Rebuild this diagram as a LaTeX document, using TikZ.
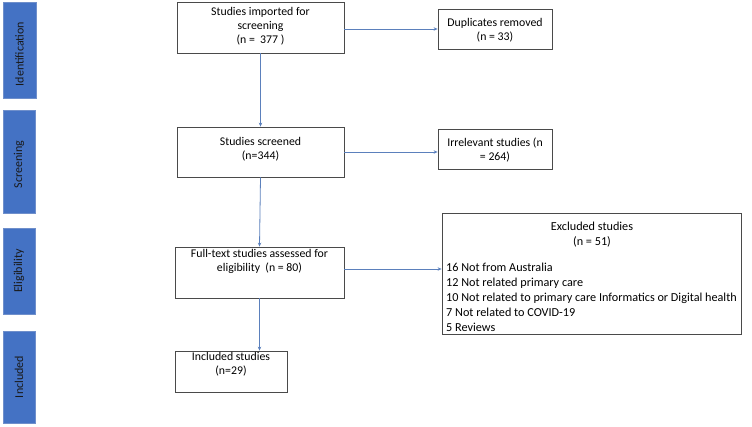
\documentclass[tikz,border=0pt]{standalone}
\usepackage{fontspec}
\setmainfont{Carlito}
\usetikzlibrary{arrows.meta}
\definecolor{barblue}{HTML}{4472C4}
\definecolor{barline}{HTML}{6F8FCB}
\definecolor{arrowblue}{HTML}{5B80BC}
\definecolor{boxline}{HTML}{4A4A4A}
\tikzset{
  sidebar/.style={rectangle, draw=barline, line width=0.8pt, fill=barblue, inner sep=0pt},
  sidetext/.style={rotate=90, text=black!90, font=\fontsize{12}{13}\selectfont, inner sep=0pt},
  flowbox/.style={rectangle, draw=boxline, line width=0.8pt, fill=white, inner sep=0pt},
  txt/.style={align=center, inner sep=0pt, font=\fontsize{11.8}{14}\selectfont},
  conn/.style={draw=arrowblue, line width=0.8pt, -{Stealth[length=4pt,width=3.5pt]}}
}
\begin{document}
\begin{tikzpicture}[x=1pt,y=-1pt]
\useasboundingbox (0,0) rectangle (752,427);
% side bars
\node[sidebar, minimum width=33pt, minimum height=96pt] (sid) at (19.5,50) {};
\node[sidetext] (tid) at ([yshift=-4pt]sid.center) {Identification};
\node[sidebar, minimum width=32pt, minimum height=103pt] (sscr) at (19,161.5) {};
\node[sidetext] (tscr) at ([yshift=-3pt]sscr.center) {Screening};
\node[sidebar, minimum width=32pt, minimum height=86pt] (selg) at (19,271) {};
\node[sidetext] (telg) at (selg.center) {Eligibility};
\node[sidebar, minimum width=32pt, minimum height=92pt] (sinc) at (19,377) {};
\node[sidetext] (tinc) at (sinc.center) {Included};
% main boxes
\node[flowbox, minimum width=167pt, minimum height=51pt] (b1) at (260.5,27.5) {};
\node[txt] (t1) at (260.5,26.5) {Studies imported for\\screening\\(n =\ \ 377 )};
\node[flowbox, minimum width=114pt, minimum height=40pt] (dup) at (495,29) {};
\node[txt] (tdup) at (495,30) {Duplicates removed\\(n = 33)};
\node[flowbox, minimum width=167pt, minimum height=50pt] (b2) at (260.5,152) {};
\node[txt] (t2) at (260.5,149.5) {Studies screened\\(n=344)};
\node[flowbox, minimum width=114pt, minimum height=40pt] (irr) at (495,149.5) {};
\node[txt] (tirr) at (495,150.5) {Irrelevant studies (n\\= 264)};
\node[flowbox, minimum width=169pt, minimum height=51pt] (b3) at (259.5,272.5) {};
\node[txt] (t3) at (259.5,261) {Full-text studies assessed for\\eligibility\ \ (n = 80)};
\node[flowbox, minimum width=299pt, minimum height=121pt] (excl) at (591.5,273.5) {};
\node[txt, font=\fontsize{12.2}{15}\selectfont] (texh) at (592,235) {Excluded studies\\(n = 51)};
\node[txt, align=left, anchor=west, font=\fontsize{12.2}{15}\selectfont] (texl) at (446,297) {16 Not from Australia\\12 Not related\ primary care\\10 Not related to primary care Informatics or Digital health\\7 Not related to COVID-19\\5 Reviews};
\node[flowbox, minimum width=112pt, minimum height=41pt] (b4) at (231,371.5) {};
\node[txt] (t4) at (231,364.5) {Included studies\\(n=29)};
% connectors
\draw[conn] (b1.east |- dup.west) -- (dup.west);
\draw[conn] (b1.south) -- (b2.north);
\draw[conn] (b2.east) -- (b2.east -| irr.west);
\draw[conn] (b2.south) -- (b3.north);
\draw[conn] ([yshift=3.5pt]b3.east) -- ([yshift=3.5pt]b3.east -| excl.west);
\draw[conn] (b3.south) -- (b3.south |- b4.north);
\end{tikzpicture}
\end{document}
